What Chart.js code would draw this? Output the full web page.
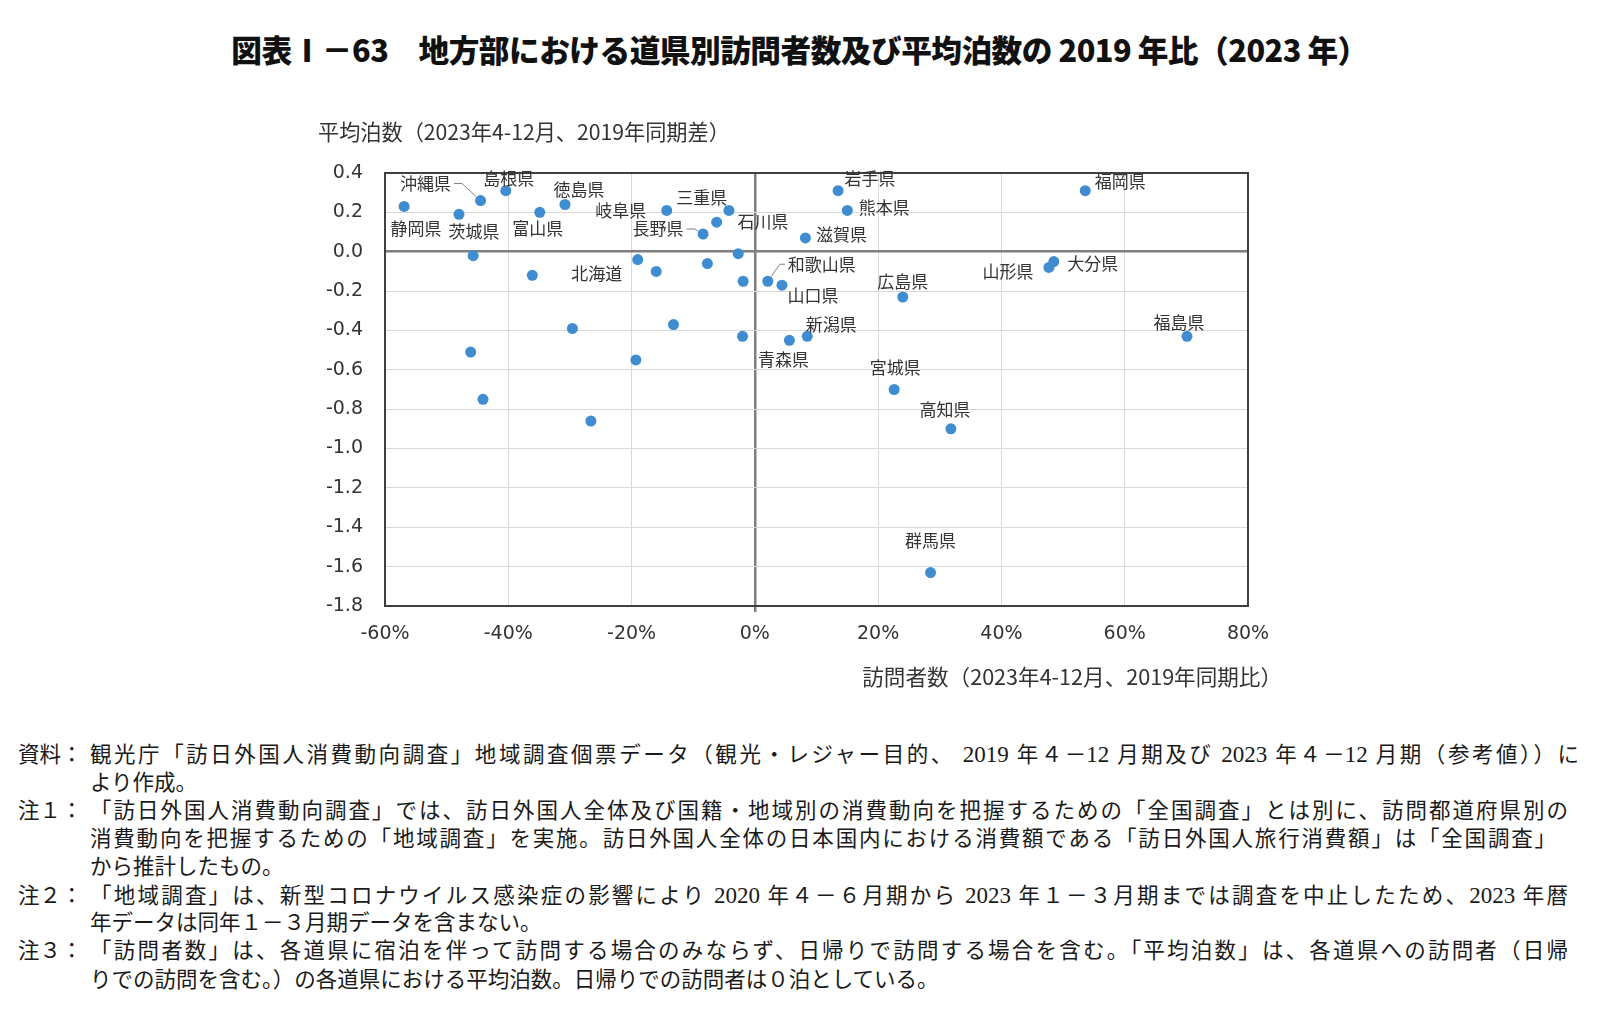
<!DOCTYPE html>
<html lang="ja">
<head>
<meta charset="utf-8">
<title>図表Ⅰ－63</title>
<script src="https://cdn.jsdelivr.net/npm/chart.js@4.4.1/dist/chart.umd.min.js"></script>
<style>
  html, body { margin: 0; padding: 0; background: #fff; }
  body { width: 1600px; height: 1011px; position: relative; overflow: hidden; font-family: "Noto Sans CJK JP", sans-serif; color: #111; }
  #title { position: absolute; left: 0; top: 28px; width: 1600px; text-align: center; line-height: 42px; }
  #title span { display: inline-block; font-size: 31px; font-weight: 900; white-space: nowrap; transform-origin: center center; letter-spacing: -0.5px; }
  #wrap { position: absolute; left: 0; top: 0; width: 1600px; height: 700px; }
  .note { position: absolute; height: 28px; line-height: 28px; font-family: "Liberation Serif", "Noto Sans CJK JP", serif; font-size: 21.5px; color: #1a1a1a; }
  .note .lab { position: absolute; left: 18px; top: 0; white-space: nowrap; }
  .note .txt { position: absolute; left: 90px; top: 0; width: 1478px; text-align: left; }
  .note .txt.full { text-align: justify; text-align-last: justify; }
  .note .num { font-size: 23px; }
</style>
</head>
<body>
<div id="title"><span>図表Ⅰ－63　地方部における道県別訪問者数及び平均泊数の 2019 年比（2023 年）</span></div>
<div id="wrap"><canvas id="chart" width="1600" height="700"></canvas></div>
<div id="notes"></div>

<script>
// 道県名（空欄はラベルなし）
const prefNames = [
  '静岡県', '沖縄県', '茨城県', '島根県', '富山県', '徳島県', '岐阜県', '三重県', '長野県', '石川県',
  '北海道', '岩手県', '熊本県', '滋賀県', '福岡県', '和歌山県', '山口県', '広島県', '山形県', '大分県',
  '福島県', '新潟県', '青森県', '宮城県', '高知県', '群馬県',
  '', '', '', '', '', '', '', '', '', '', '', '', ''
];
// 訪問者数（2023年4-12月、2019年同期比, %）
const visitorRatio = [
  -56.9, -44.5, -48.0, -40.4, -34.9, -30.8, -14.3, -6.2, -8.4, -4.2,
  -19.0, 13.5, 15.0, 8.2, 53.6, 2.1, 4.4, 24.0, 47.7, 48.5,
  70.1, 8.5, 5.6, 22.6, 31.8, 28.5,
  -45.7, -36.1, -16.0, -7.7, -2.7, -1.9, -29.6, -13.2, -2.0, -46.1, -19.3, -44.1, -26.6
];
// 平均泊数（2023年4-12月、2019年同期差）
const nightsDiff = [
  0.23, 0.26, 0.19, 0.31, 0.20, 0.24, 0.21, 0.15, 0.09, 0.21,
  -0.04, 0.31, 0.21, 0.07, 0.31, -0.15, -0.17, -0.23, -0.08, -0.05,
  -0.43, -0.43, -0.45, -0.70, -0.90, -1.63,
  -0.02, -0.12, -0.10, -0.06, -0.01, -0.15, -0.39, -0.37, -0.43, -0.51, -0.55, -0.75, -0.86
];
const xTicks = [-60, -40, -20, 0, 20, 40, 60, 80];
const yTicks = [0.4, 0.2, 0.0, -0.2, -0.4, -0.6, -0.8, -1.0, -1.2, -1.4, -1.6, -1.8];

const xTitle = '訪問者数（2023年4-12月、2019年同期比）';
const yTitle = '平均泊数（2023年4-12月、2019年同期差）';

// ラベルの点からのずれ（px）
const labelPos = {
  '静岡県': { dx: 12, dy: 22 },
  '沖縄県': { dx: -55, dy: -17, leader: 'right' },
  '茨城県': { dx: 15, dy: 17 },
  '島根県': { dx: 3, dy: -12 },
  '富山県': { dx: -2, dy: 16 },
  '徳島県': { dx: 14, dy: -15 },
  '岐阜県': { dx: -46, dy: 0 },
  '三重県': { dx: -15, dy: -25 },
  '長野県': { dx: -45, dy: -5, leader: 'right' },
  '石川県': { dx: 34, dy: 11 },
  '北海道': { dx: -41, dy: 14 },
  '岩手県': { dx: 32, dy: -12 },
  '熊本県': { dx: 37, dy: -3 },
  '滋賀県': { dx: 36, dy: -3 },
  '福岡県': { dx: 35, dy: -9 },
  '和歌山県': { dx: 54, dy: -17, leader: 'left' },
  '山口県': { dx: 31, dy: 10 },
  '広島県': { dx: 0, dy: -15 },
  '山形県': { dx: -41, dy: 4 },
  '大分県': { dx: 39, dy: 2 },
  '福島県': { dx: -8, dy: -14 },
  '新潟県': { dx: 24, dy: -12 },
  '青森県': { dx: -6, dy: 19 },
  '宮城県': { dx: 1, dy: -22 },
  '高知県': { dx: -6, dy: -19 },
  '群馬県': { dx: 0, dy: -32 }
};

const notes = [
  { lab: '資料：', txt: '観光庁「訪日外国人消費動向調査」地域調査個票データ（観光・レジャー目的、 2019 年４－12 月期及び 2023 年４－12 月期（参考値））に', full: true, y: 755, w: 1489 },
  { lab: '', txt: 'より作成。', y: 783 },
  { lab: '注１：', txt: '「訪日外国人消費動向調査」では、訪日外国人全体及び国籍・地域別の消費動向を把握するための「全国調査」とは別に、訪問都道府県別の', full: true, y: 811 },
  { lab: '', txt: '消費動向を把握するための「地域調査」を実施。訪日外国人全体の日本国内における消費額である「訪日外国人旅行消費額」は「全国調査」', full: true, y: 839, w: 1466 },
  { lab: '', txt: 'から推計したもの。', y: 867 },
  { lab: '注２：', txt: '「地域調査」は、新型コロナウイルス感染症の影響により 2020 年４－６月期から 2023 年１－３月期までは調査を中止したため、2023 年暦', full: true, y: 896 },
  { lab: '', txt: '年データは同年１－３月期データを含まない。', y: 923 },
  { lab: '注３：', txt: '「訪問者数」は、各道県に宿泊を伴って訪問する場合のみならず、日帰りで訪問する場合を含む。「平均泊数」は、各道県への訪問者（日帰', full: true, y: 951 },
  { lab: '', txt: 'りでの訪問を含む。）の各道県における平均泊数。日帰りでの訪問者は０泊としている。', y: 980 }
];

// タイトル幅を合わせる
(function () {
  const s = document.querySelector('#title span');
  const w = s.getBoundingClientRect().width;
  s.style.transform = 'scaleX(' + (1137 / w).toFixed(3) + ')';
})();

document.getElementById('notes').innerHTML = notes.map(n => `
  <div class="note" style="top:${n.y - 14}px;left:0;width:1600px">
    <span class="lab">${n.lab}</span>
    <div class="txt ${n.full ? 'full' : ''}" style="${n.w ? 'width:' + n.w + 'px' : ''}">${n.txt.replace(/(\d+)/g, '<span class="num">$1</span>')}</div>
  </div>`).join('');

const isZero = v => Math.abs(v) < 1e-6;

// 指定幅に合うフォントサイズ
function fitFont(ctx, text, width) {
  ctx.font = '20px "Noto Sans CJK JP"';
  const w = ctx.measureText(text).width;
  return Math.min(24, 20 * width / w);
}

const overlay = {
  id: 'overlay',
  beforeDatasetsDraw(chart) {
    const { ctx, chartArea: a } = chart;
    ctx.save();
    ctx.strokeStyle = '#404040';
    ctx.lineWidth = 2;
    ctx.strokeRect(a.left, a.top, a.right - a.left, a.bottom - a.top);
    ctx.restore();
  },
  afterDatasetsDraw(chart) {
    const { ctx, chartArea: a } = chart;
    const pts = chart.getDatasetMeta(0).data;
    ctx.save();
    ctx.font = '17px "Noto Sans CJK JP"';
    ctx.fillStyle = '#333';
    ctx.textAlign = 'center';
    ctx.textBaseline = 'middle';
    prefNames.forEach((name, i) => {
      if (!name) return;
      const p = pts[i];
      const o = labelPos[name] || { dx: 30, dy: 0 };
      const lx = p.x + o.dx, ly = p.y + o.dy;
      ctx.fillText(name, lx, ly);
      if (o.leader) {
        const half = ctx.measureText(name).width / 2;
        const sx = o.leader === 'right' ? lx + half + 3 : lx - half - 3;
        const mx = o.leader === 'right' ? sx + 8 : sx - 5;
        ctx.save();
        ctx.strokeStyle = '#7f7f7f';
        ctx.lineWidth = 1;
        ctx.beginPath();
        ctx.moveTo(sx, ly);
        ctx.lineTo(mx, ly);
        const ang = Math.atan2(ly - p.y, mx - p.x);
        ctx.lineTo(p.x + Math.cos(ang) * 6, p.y + Math.sin(ang) * 6);
        ctx.stroke();
        ctx.restore();
      }
    });
    // 軸タイトル
    ctx.fillStyle = '#333';
    ctx.font = fitFont(ctx, yTitle, 412).toFixed(2) + 'px "Noto Sans CJK JP"';
    ctx.textAlign = 'left';
    ctx.fillText(yTitle, a.left - 67, a.top - 41);
    ctx.font = fitFont(ctx, xTitle, 420).toFixed(2) + 'px "Noto Sans CJK JP"';
    ctx.textAlign = 'right';
    ctx.fillText(xTitle, a.right + 34, a.bottom + 71);
    ctx.restore();
  }
};

new Chart(document.getElementById('chart'), {
  type: 'scatter',
  data: {
    datasets: [{
      label: '道県',
      data: visitorRatio.map((x, i) => ({ x, y: nightsDiff[i] })),
      backgroundColor: '#3f8dd0',
      borderWidth: 0,
      pointRadius: 5.5,
      pointHoverRadius: 5.5,
      clip: false
    }]
  },
  options: {
    responsive: false,
    animation: false,
    events: [],
    layout: { padding: { left: 325, right: 352, top: 173, bottom: 0 } },
    plugins: { legend: { display: false }, tooltip: { enabled: false } },
    scales: {
      x: {
        type: 'linear',
        min: xTicks[0], max: xTicks[xTicks.length - 1],
        afterBuildTicks: s => { s.ticks = xTicks.map(v => ({ value: v })); },
        afterFit: s => { s.height = 94; },
        border: { display: false },
        grid: {
          color: c => isZero(c.tick.value) ? '#7f7f7f' : '#d9d9d9',
          lineWidth: c => isZero(c.tick.value) ? 2.5 : 1,
          drawTicks: true,
          tickLength: 6,
          tickColor: c => isZero(c.tick.value) ? '#7f7f7f' : 'rgba(0,0,0,0)',
          tickWidth: 2.5
        },
        ticks: {
          padding: 11,
          maxRotation: 0,
          color: '#333',
          font: { family: 'DejaVu Sans', size: 19 },
          callback: v => v + '%'
        }
      },
      y: {
        type: 'linear',
        min: yTicks[yTicks.length - 1], max: yTicks[0],
        afterBuildTicks: s => { s.ticks = yTicks.map(v => ({ value: v })); },
        afterFit: s => { s.width = 60; },
        border: { display: false },
        grid: {
          color: c => isZero(c.tick.value) ? '#7f7f7f' : '#d9d9d9',
          lineWidth: c => isZero(c.tick.value) ? 2.5 : 1,
          drawTicks: false
        },
        ticks: {
          padding: 22,
          color: '#333',
          font: { family: 'DejaVu Sans', size: 19 },
          callback: v => isZero(v) ? '0.0' : Number(v).toFixed(1)
        }
      }
    }
  },
  plugins: [overlay]
});
</script>
</body>
</html>
